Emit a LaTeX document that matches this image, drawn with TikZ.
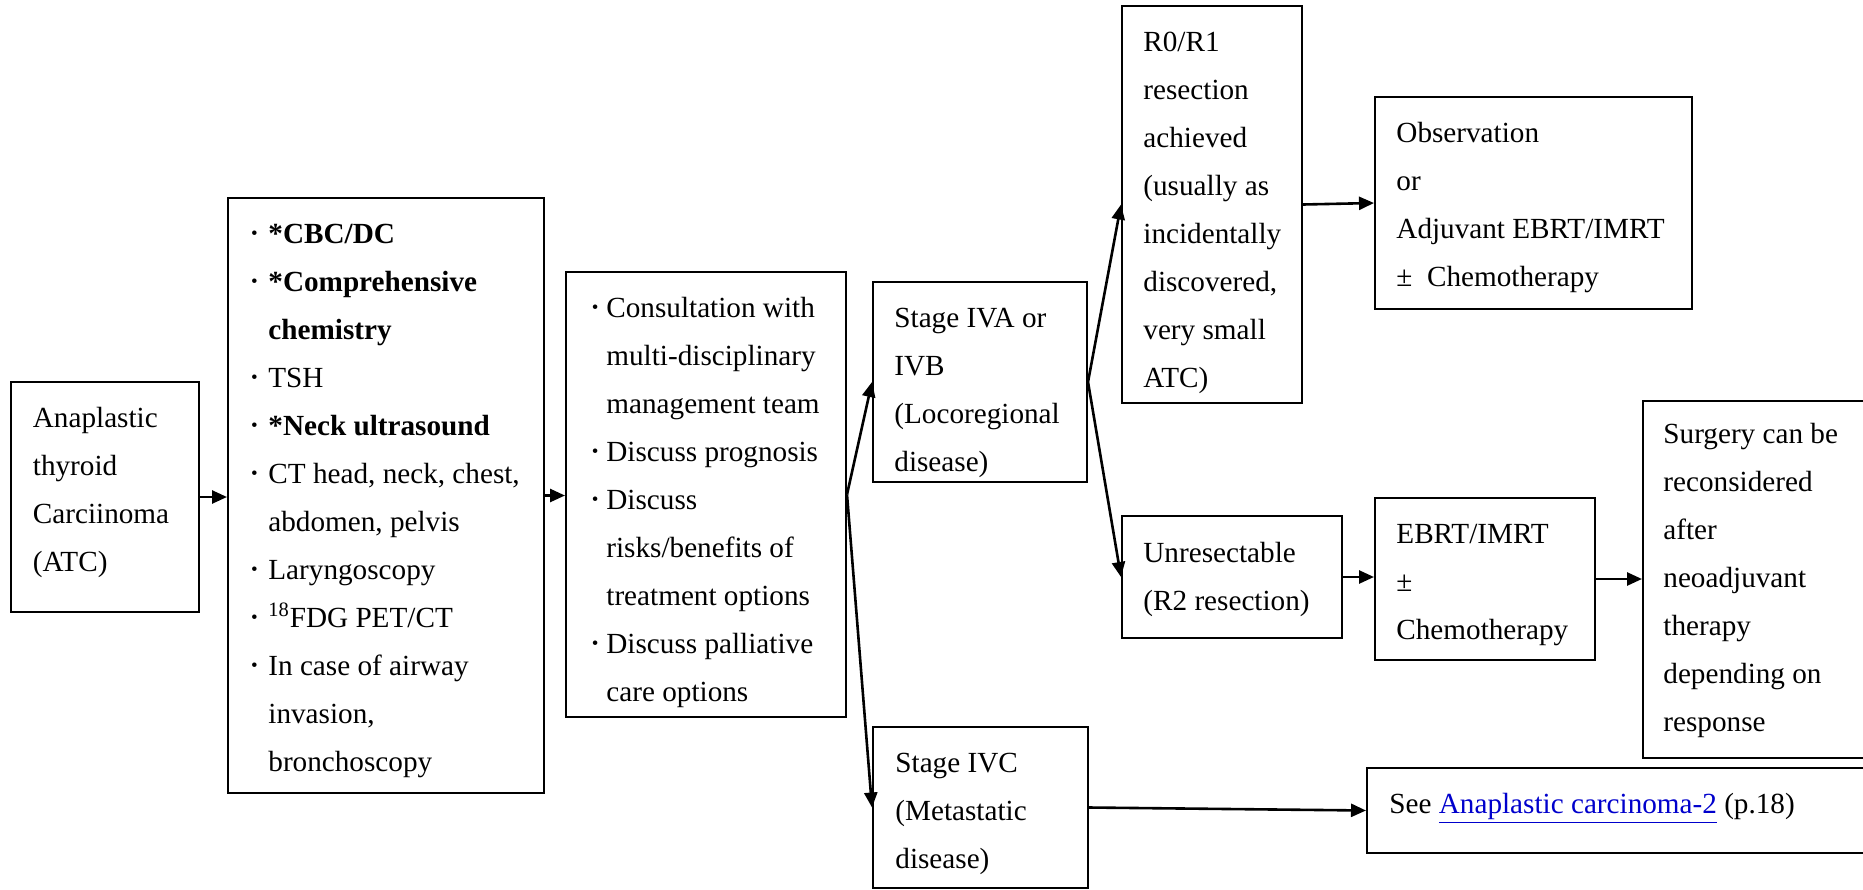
\documentclass[tikz,border=0pt]{standalone}
\usepackage{fontspec}
\setmainfont{Liberation Serif}
\usetikzlibrary{arrows.meta,fit}
\definecolor{linkblue}{RGB}{0,0,204}
\newcommand{\bdot}[1]{\llap{\raisebox{1.9pt}{\scalebox{0.65}{\textbullet}}\hspace{#1}}}
\newcommand{\Ln}{\strut}
\begin{document}
\begin{tikzpicture}[x=0.5pt,y=-0.5pt,
  box/.style={draw, line width=1pt, inner sep=0pt},
  txt/.style={anchor=north west, inner sep=0pt, align=left, font=\fontsize{14.6}{24}\selectfont},
  arr/.style={-{Triangle[length=7.5pt,width=6.5pt]}, line width=1.3pt}]
\useasboundingbox (0,0) rectangle (1863,889);
\clip (0,0) rectangle (1863,889);

% boxes
\node[box, fit={(11,382) (199,612)}] (atc) {};
\node[box, fit={(228,198) (544,793)}] (tests) {};
\node[box, fit={(566,272) (846,717)}] (consult) {};
\node[box, fit={(873,282) (1087,482)}] (iva) {};
\node[box, fit={(873,727) (1088,888)}] (ivc) {};
\node[box, fit={(1122,6) (1302,403)}] (r01) {};
\node[box, fit={(1375,97) (1692,309)}] (obs) {};
\node[box, fit={(1122,516) (1342,638)}] (unres) {};
\node[box, fit={(1375,498) (1595,660)}] (ebrt) {};
\node[box, fit={(1643,401) (1920,758)}] (surg) {};
\node[box, fit={(1367,768) (1920,853)}] (see) {};

% texts (anchor = first baseline - 33.6px)
\node[txt] (atc-t) at (32.5,393.4) {\Ln Anaplastic\\\Ln thyroid\\\Ln Carciinoma\\\Ln (ATC)};
\node[txt] (tests-t) at (268,209.4) {%
\Ln\bdot{5.3pt}\textbf{*CBC/DC}\\
\Ln\bdot{5.3pt}\textbf{*Comprehensive}\\
\Ln\textbf{chemistry}\\
\Ln\bdot{5.3pt}TSH\\
\Ln\bdot{5.3pt}\textbf{*Neck ultrasound}\\
\Ln\bdot{5.3pt}CT head, neck, chest,\\
\Ln abdomen, pelvis\\
\Ln\bdot{5.3pt}Laryngoscopy\\
\Ln\bdot{5.3pt}\textsuperscript{18}FDG PET/CT\\
\Ln\bdot{5.3pt}In case of airway\\
\Ln invasion,\\
\Ln bronchoscopy};
\node[txt] (consult-t) at (606,283.4) {%
\Ln\bdot{3.9pt}Consultation with\\
\Ln multi-disciplinary\\
\Ln management team\\
\Ln\bdot{3.9pt}Discuss prognosis\\
\Ln\bdot{3.9pt}Discuss\\
\Ln risks/benefits of\\
\Ln treatment options\\
\Ln\bdot{3.9pt}Discuss palliative\\
\Ln care options};
\node[txt] (iva-t) at (894,293.4) {\Ln Stage IVA or\\\Ln IVB\\\Ln (Locoregional\\\Ln disease)};
\node[txt] (ivc-t) at (895,738.4) {\Ln Stage IVC\\\Ln (Metastatic\\\Ln disease)};
\node[txt] (r01-t) at (1143,17.4) {\Ln R0/R1\\\Ln resection\\\Ln achieved\\\Ln (usually as\\\Ln incidentally\\\Ln discovered,\\\Ln very small\\\Ln ATC)};
\node[txt] (obs-t) at (1396,108.4) {\Ln Observation\\\Ln or\\\Ln Adjuvant EBRT/IMRT\\\Ln ±\ \ Chemotherapy};
\node[txt] (unres-t) at (1143,528.4) {\Ln Unresectable\\\Ln (R2 resection)};
\node[txt] (ebrt-t) at (1396,509.4) {\Ln EBRT/IMRT\\\Ln ±\\\Ln Chemotherapy};
\node[txt] (surg-t) at (1663,409.4) {\Ln Surgery can be\\\Ln reconsidered\\\Ln after\\\Ln neoadjuvant\\\Ln therapy\\\Ln depending on\\\Ln response};
\node[txt] (see-t) at (1389,779.4) {\Ln See \textcolor{linkblue}{\underline{Anaplastic carcinoma-2}} (p.18)};

% connectors
\draw[arr] (atc.east) -- (atc.east -| tests.west);
\draw[arr] (tests.east) -- (tests.east -| consult.west);
\draw[arr] (consult.east) -- (iva.west);
\draw[arr] (consult.east) -- (ivc.west);
\draw[arr] (iva.east) -- (r01.west);
\draw[arr] (iva.east) -- (unres.west);
\draw[arr] (r01.east) -- (obs.west);
\draw[arr] (unres.east) -- (unres.east -| ebrt.west);
\draw[arr] (ebrt.east) -- (ebrt.east -| surg.west);
\draw[arr] (ivc.east) -- (see.west);
\end{tikzpicture}
\end{document}
